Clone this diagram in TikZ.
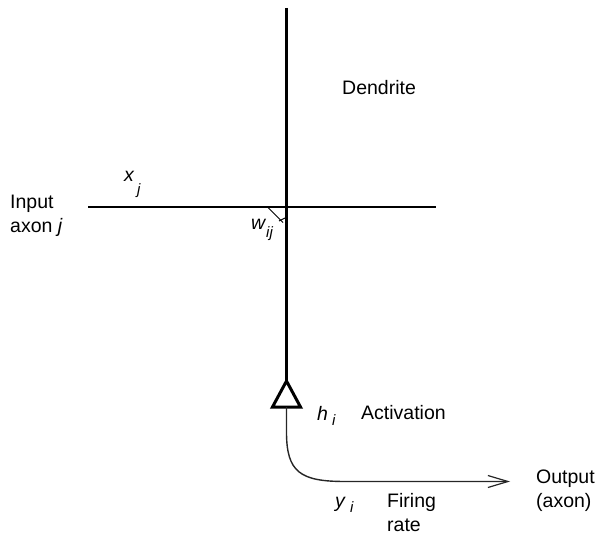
\documentclass[tikz,border=0pt]{standalone}
\usepackage{fontspec}
\setmainfont{Liberation Sans}
\usetikzlibrary{arrows.meta}
\begin{document}
\begin{tikzpicture}[x=1pt,y=-1pt,
  lbl/.style={inner sep=0pt,anchor=base west,font=\fontsize{19.5}{24}\selectfont,align=left},
  sym/.style={inner sep=0pt,anchor=base west,font=\fontsize{19.5}{24}\selectfont\itshape},
  sub/.style={inner sep=0pt,anchor=base west,font=\fontsize{15}{18}\selectfont\itshape},
  thickline/.style={line width=3pt},
  thinline/.style={line width=1.4pt,color=black!85}]
\useasboundingbox (0,0) rectangle (597,537);
% geometry of the neuron
\coordinate (dtop) at (286.5,8);
\coordinate (apex) at (286.5,381);
\coordinate (bl) at (272.5,407);
\coordinate (br) at (300.5,407);
\coordinate (sbase) at (286.5,407);
\coordinate (ain) at (88,207);
\coordinate (aout) at (436,207);
\coordinate (bend) at (286.5,432);
\coordinate (outend) at (510,481.5);
\coordinate (syn1) at (268,207.5);
\coordinate (syn2) at (283,222.5);
\coordinate (syn3) at (279,221);
\coordinate (syn4) at (285,218);
% dendrite
\draw[thickline] (dtop) -- (apex);
% input axon
\draw[line width=1.4pt] (ain) -- (aout);
% synapse mark
\draw[line width=1pt] (syn1) -- (syn2);
\draw[line width=1pt] (syn3) -- (syn4);
% cell body
\draw[thickline,fill=white,line join=miter] (apex) -- (br) -- (bl) -- cycle;
% output axon
\draw[thinline,-{Straight Barb[length=20pt,width=12pt,line width=1.2pt]}]
  (sbase) -- (bend) .. controls (286.5,472) and (300,481.5) .. (345,481.5) -- (outend);
% labels (multi-line nodes sit on the baseline of their last line)
\node[lbl] (dend) at (342,95) {Dendrite};
\node[lbl] (inp) at (10,233) {Input\\axon \textit{j}};
\node[sym] (xj) at (124,182) {x};
\node[sub] (xjs) at (137,195) {j};
\node[sym] (wij) at (251,230) {w};
\node[sub] (wijs) at (266,238) {ij};
\node[sym] (hi) at (317,420) {h};
\node[sub] (his) at (332,425) {i};
\node[lbl] (act) at (361,419) {Activation};
\node[lbl] (outp) at (536,507) {Output\\(axon)};
\node[sym] (yi) at (335,507) {y};
\node[sub] (yis) at (350,512) {i};
\node[lbl] (fir) at (387,531) {Firing\\rate};
\end{tikzpicture}
\end{document}
